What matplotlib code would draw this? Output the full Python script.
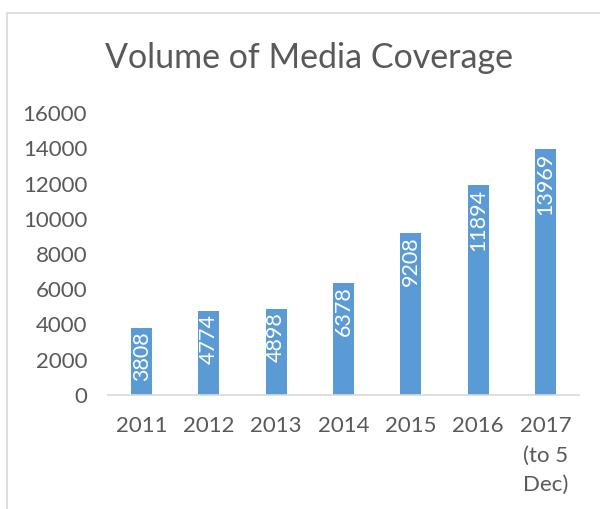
import matplotlib
matplotlib.use("Agg")
import matplotlib.pyplot as plt
from matplotlib.patches import Rectangle

years = ["2011", "2012", "2013", "2014", "2015", "2016", "2017\n(to 5\nDec)"]
coverage = [3808, 4774, 4898, 6378, 9208, 11894, 13969]
y_ticks = [0, 2000, 4000, 6000, 8000, 10000, 12000, 14000, 16000]

plt.rcParams['font.family'] = ['Lato', 'DejaVu Sans']
text_color = "#595959"
bar_color = "#5B9BD5"

fig = plt.figure(figsize=(6.0, 5.09), dpi=100)
# chart border (cropped on right and bottom)
fig.patches.append(Rectangle((7 / 600, -0.1), 1.2, (509 - 13) / 509 + 0.1,
                             transform=fig.transFigure, fill=False,
                             edgecolor="#D9D9D9", lw=1.2))

ax = fig.add_axes([108 / 600, (509 - 395) / 509, (579 - 108) / 600, (395 - 113) / 509])
x = range(len(years))
bars = ax.bar(x, coverage, width=0.31, color=bar_color)

for xi, v in zip(x, coverage):
    ax.text(xi, v - 200, str(v), rotation=90, ha="center", va="top",
            color="white", fontsize=15.5)

ax.set_xlim(-0.5, len(years) - 0.5)
ax.set_ylim(0, 16000)
ax.set_yticks(y_ticks)
ax.set_yticklabels([str(t) for t in y_ticks])
ax.set_xticks(list(x))
ax.set_xticklabels(years, linespacing=1.6, va="top")
ax.tick_params(length=0, labelsize=16, colors=text_color)
ax.tick_params(axis="x", pad=15)
ax.tick_params(axis="y", pad=15)
for s in ["top", "right", "left"]:
    ax.spines[s].set_visible(False)
ax.spines["bottom"].set_color("#D9D9D9")
ax.spines["bottom"].set_linewidth(1.2)

fig.text(309 / 600, 1 - 58 / 509, "Volume of Media Coverage", ha="center", va="center",
         fontsize=24.5, color=text_color)

fig.savefig("out.png", dpi=100)
